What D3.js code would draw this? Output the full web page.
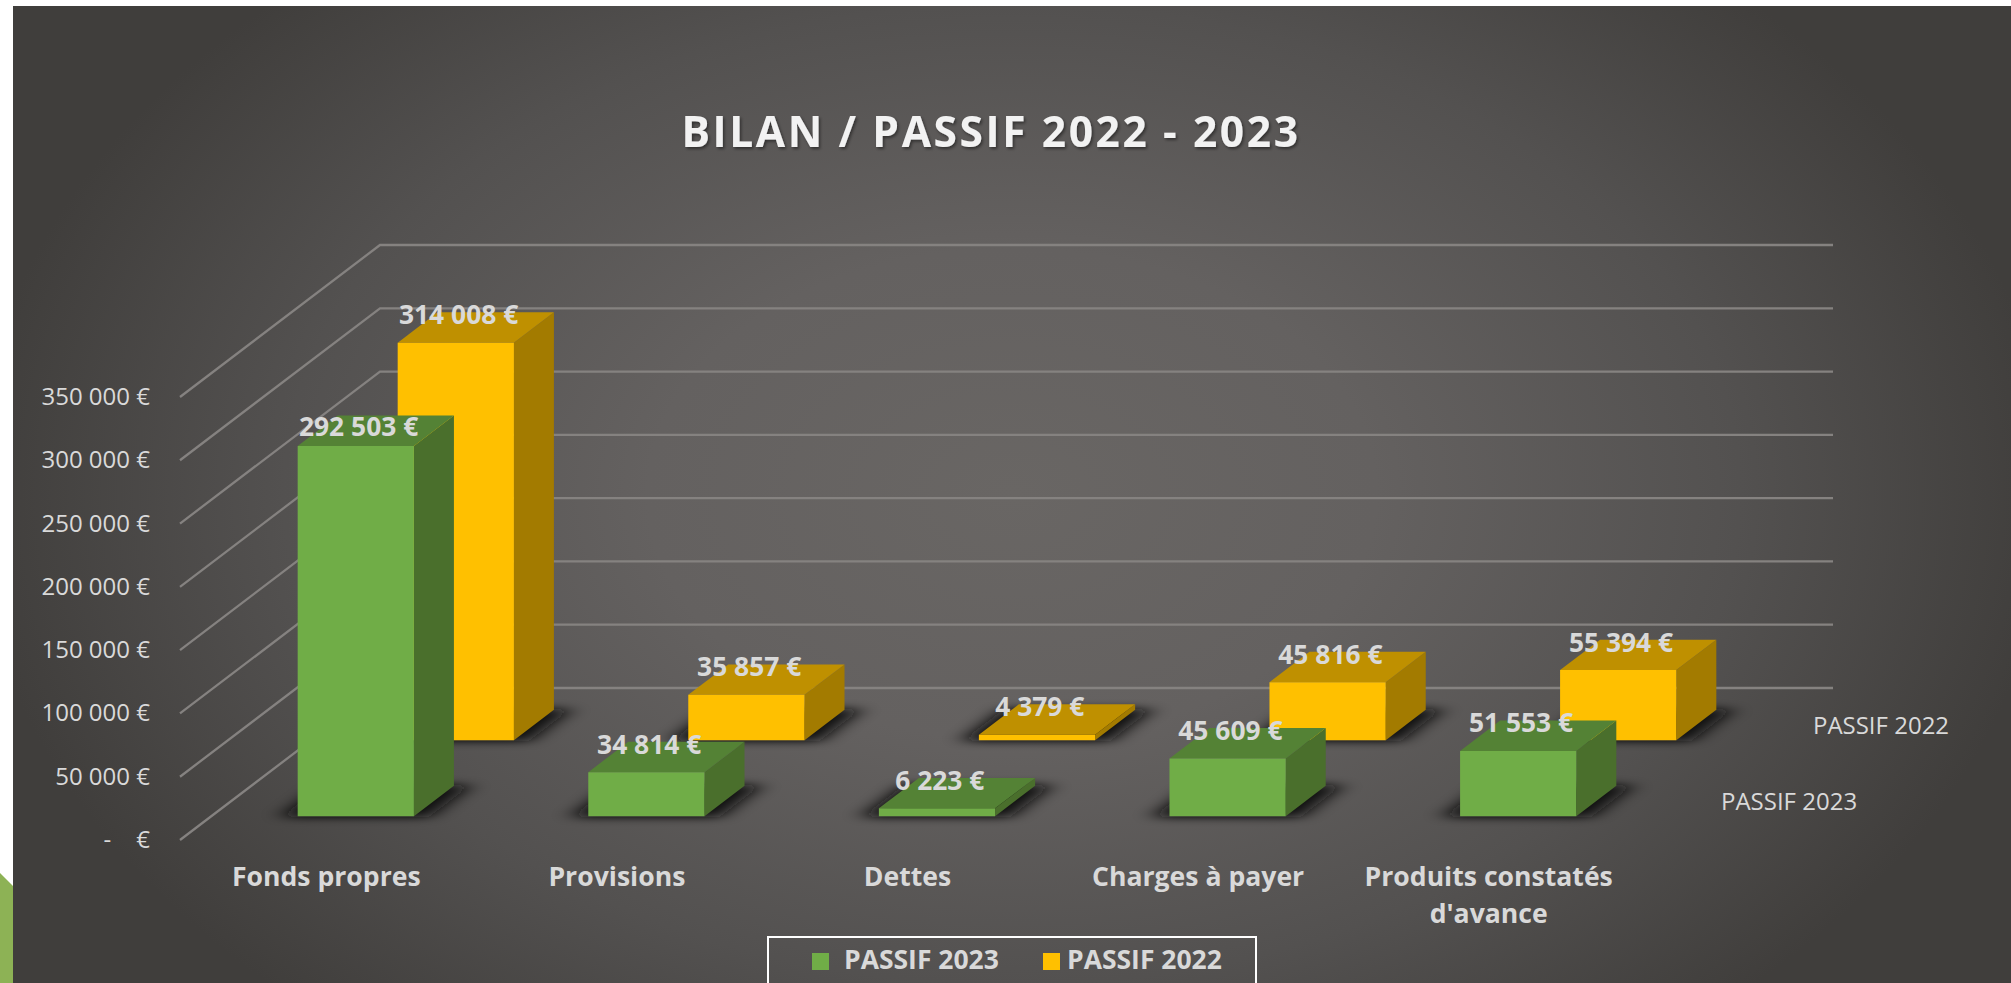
<!DOCTYPE html>
<html><head><meta charset="utf-8">
<script src="https://cdn.jsdelivr.net/npm/d3@7/dist/d3.min.js"></script>
<style>html,body{margin:0;padding:0;background:#fff;overflow:hidden}svg{display:block}text{font-family:"Open Sans",sans-serif}</style>
</head><body><svg id="c" width="2011" height="983"></svg>
<script>
const titleText = "BILAN / PASSIF 2022 - 2023";
const categories = ["Fonds propres","Provisions","Dettes","Charges à payer","Produits constatés d'avance"];
const seriesNames = ["PASSIF 2023","PASSIF 2022"];
const passif2023 = [292503,34814,6223,45609,51553];
const passif2022 = [314008,35857,4379,45816,55394];
const seriesValues = [passif2023,passif2022];
const yTicks = [0,50000,100000,150000,200000,250000,300000,350000];

const W=2011,H=983,panelX=13,panelY=6;
const frontLeft=180,frontRight=1633,floorY=839,depthPx=152,plotH=443,slant=200/152;
const svg=d3.select("#c");
const defs=svg.append("defs");
const bg=defs.append("radialGradient").attr("id","bg").attr("gradientUnits","userSpaceOnUse")
  .attr("cx",0).attr("cy",0).attr("r",1)
  .attr("gradientTransform",`translate(1012,494) scale(1040,700)`);
[[0,"#696664"],[.35,"#646160"],[.7,"#535150"],[1,"#403e3c"]].forEach(([o,c])=>bg.append("stop").attr("offset",o).attr("stop-color",c));
defs.append("filter").attr("id","sh").attr("filterUnits","userSpaceOnUse").attr("x",0).attr("y",0).attr("width",W).attr("height",H)
  .append("feGaussianBlur").attr("stdDeviation","11 4");
const ts=defs.append("filter").attr("id","ts").attr("x","-10%").attr("y","-20%").attr("width","120%").attr("height","150%");
ts.append("feDropShadow").attr("dx",1.5).attr("dy",2).attr("stdDeviation",1.5).attr("flood-color","#000").attr("flood-opacity",.45);

svg.append("rect").attr("width",W).attr("height",H).attr("fill","#fff");
svg.append("path").attr("d",d3.line()([[0,873],[panelX,886],[panelX,H],[0,H]])).attr("fill","#8db255");
svg.append("rect").attr("x",panelX).attr("y",panelY).attr("width",W-panelX).attr("height",H-panelY).attr("fill","url(#bg)");

const x=d3.scaleBand().domain(categories).range([frontLeft,frontRight]).paddingInner(.6).paddingOuter(.3);
const y=d3.scaleLinear().domain([0,350000]).range([0,plotH]);
const z=d3.scaleBand().domain(seriesNames).range([0,depthPx]).paddingInner(.6).paddingOuter(.3);
const proj=(px,d,h)=>[px+d*slant,floorY-d-h];
const line=d3.line();

// grid walls
svg.append("g").selectAll("path").data(yTicks).join("path")
  .attr("d",t=>line([proj(frontLeft,0,y(t)),proj(frontLeft,depthPx,y(t)),proj(frontRight,depthPx,y(t))]))
  .attr("fill","none").attr("stroke","#858280").attr("stroke-width",2.3).attr("transform","translate(0,1)");

// y axis labels
svg.append("g").selectAll("text").data(yTicks).join("text")
  .attr("x",150).attr("y",t=>floorY-y(t)+9).attr("text-anchor","end")
  .attr("font-size",24).attr("fill","#d9d9d9")
  .text(t=>t===0?"-\u00a0\u00a0\u00a0\u00a0€":d3.format(",")(t).replace(/,/g," ")+" €");

// depth axis labels
svg.append("g").selectAll("text").data(seriesNames).join("text")
  .attr("x",s=>1675+(z(s)+z.bandwidth()/2)*1.21).attr("y",s=>floorY-z(s)-z.bandwidth()/2+9)
  .attr("font-size",24).attr("fill","#d9d9d9").text(s=>s);

const styles=[{f:"#70ad47",s:"#4a6f2c",t:"#548235"},{f:"#ffc000",s:"#a37b00",t:"#bf9000"}];
const g=svg.append("g").attr("transform","translate(.5,0)");
const bars=[];
[1,0].forEach(si=>categories.forEach((c,i)=>bars.push({si,i,c,v:seriesValues[si][i]})));
// shadows first, then bars, back series first
g.selectAll("path.sh").data(bars).join("path").attr("class","sh")
  .attr("d",b=>{const x0=x(b.c),x1=x0+x.bandwidth(),d0=z(seriesNames[b.si]),d1=d0+z.bandwidth();
    return line([proj(x0-16,d0-1,0),proj(x1+16,d0-1,0),proj(x1+16,d1+1,0),proj(x0-16,d1+1,0)])+"Z";})
  .attr("fill","#0c0c0c").attr("opacity",1).attr("filter","url(#sh)");
bars.forEach(b=>{
  const x0=x(b.c),x1=x0+x.bandwidth(),d0=z(seriesNames[b.si]),d1=d0+z.bandwidth(),h=y(b.v),st=styles[b.si];
  const P=(a,b2,c2)=>proj(a,b2,c2);
  const bar=g.append("g");
  bar.append("path").attr("d",line([P(x1,d0,0),P(x1,d1,0),P(x1,d1,h),P(x1,d0,h)])+"Z").attr("fill",st.s);
  bar.append("path").attr("d",line([P(x0,d0,h),P(x1,d0,h),P(x1,d1,h),P(x0,d1,h)])+"Z").attr("fill",st.t);
  bar.append("path").attr("d",line([P(x0,d0,0),P(x1,d0,0),P(x1,d0,h),P(x0,d0,h)])+"Z").attr("fill",st.f);
});
// value labels
svg.append("g").selectAll("text").data(bars).join("text")
  .attr("x",b=>proj(x(b.c)+x.bandwidth()/2,z(seriesNames[b.si]),0)[0]+3.3)
  .attr("y",b=>proj(0,z(seriesNames[b.si]),y(b.v))[1]-((b.si===0&&b.i===0)?20:28.5)+10)
  .attr("text-anchor","middle").attr("font-size",26.4).attr("font-weight",700).attr("fill","#d9d9d9")
  .text(b=>d3.format(",")(b.v).replace(/,/g," ")+" €");

// category labels
const catG=svg.append("g").selectAll("text").data(categories).join("text")
  .attr("text-anchor","middle").attr("font-size",26.6).attr("font-weight",700).attr("fill","#d9d9d9");
catG.each(function(c,i){
  const t=d3.select(this);
  const cx=x(c)+x.bandwidth()/2+1;
  const lines=c.length>20?["Produits constatés","d'avance"]:[c];
  lines.forEach((l,k)=>t.append("tspan").attr("x",cx).attr("y",886+k*37).text(l));
});

// title
svg.append("text").attr("x",991).attr("y",147).attr("text-anchor","middle")
  .attr("font-size",42.5).attr("font-weight",700).attr("letter-spacing",2.6).attr("fill","#f2f2f2").attr("filter","url(#ts)").text(titleText);

// legend
svg.append("path").attr("d",line([[768,H+3],[768,937],[1256,937],[1256,H+3]])).attr("fill","none").attr("stroke","#fff").attr("stroke-width",2);
const legX=[812,1043],legT=[844,1067];
seriesNames.forEach((s,i)=>{
  svg.append("rect").attr("x",legX[i]).attr("y",953).attr("width",17).attr("height",17).attr("fill",styles[i].f);
  svg.append("text").attr("x",legT[i]).attr("y",969).attr("font-size",26.5).attr("font-weight",700).attr("fill","#d9d9d9").text(s);
});
</script></body></html>
